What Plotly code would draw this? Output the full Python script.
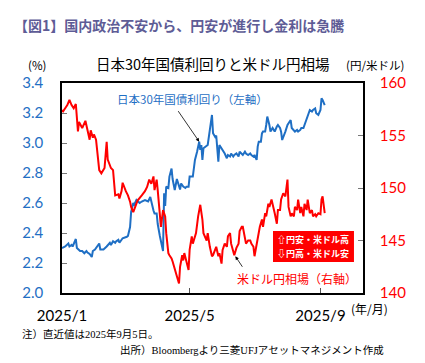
import plotly.graph_objects as go

jgb_dates = ["2025-01-01","2025-01-04","2025-01-07","2025-01-08","2025-01-10","2025-01-11","2025-01-14","2025-01-15","2025-01-18","2025-01-20",
"2025-01-22","2025-01-24","2025-01-25","2025-01-27","2025-01-29","2025-01-30","2025-02-01","2025-02-03","2025-02-05","2025-02-06",
"2025-02-09","2025-02-12","2025-02-13","2025-02-15","2025-02-16","2025-02-18","2025-02-20","2025-02-21","2025-02-23","2025-02-24",
"2025-02-26","2025-02-27","2025-03-03","2025-03-04","2025-03-06","2025-03-07","2025-03-09","2025-03-10","2025-03-12","2025-03-15",
"2025-03-17","2025-03-20","2025-03-23","2025-03-25","2025-03-28","2025-03-29","2025-03-31","2025-04-01","2025-04-03","2025-04-04",
"2025-04-06","2025-04-07","2025-04-08","2025-04-09","2025-04-11","2025-04-12","2025-04-14","2025-04-15","2025-04-17","2025-04-19",
"2025-04-20","2025-04-22","2025-04-23","2025-04-25","2025-04-27","2025-04-28","2025-04-30","2025-05-01","2025-05-03","2025-05-04",
"2025-05-06","2025-05-07","2025-05-08","2025-05-10","2025-05-11","2025-05-12","2025-05-13","2025-05-14","2025-05-16","2025-05-18",
"2025-05-20","2025-05-22","2025-05-23","2025-05-25","2025-05-26","2025-05-28","2025-05-29","2025-05-31","2025-06-01","2025-06-03",
"2025-06-05","2025-06-06","2025-06-08","2025-06-09","2025-06-11","2025-06-12","2025-06-14","2025-06-16","2025-06-17","2025-06-19",
"2025-06-20","2025-06-22","2025-06-23","2025-06-25","2025-06-27","2025-06-28","2025-06-30","2025-07-01","2025-07-03","2025-07-04",
"2025-07-05","2025-07-07","2025-07-08","2025-07-09","2025-07-11","2025-07-12","2025-07-13","2025-07-15","2025-07-16","2025-07-18",
"2025-07-19","2025-07-20","2025-07-22","2025-07-23","2025-07-25","2025-07-26","2025-07-27","2025-07-29","2025-07-30","2025-08-01",
"2025-08-02","2025-08-04","2025-08-05","2025-08-07","2025-08-08","2025-08-10","2025-08-11","2025-08-13","2025-08-14","2025-08-16",
"2025-08-17","2025-08-19","2025-08-21","2025-08-22","2025-08-24","2025-08-25","2025-08-27","2025-08-28","2025-08-30","2025-09-01",
"2025-09-02","2025-09-03","2025-09-05"]
jgb30 = [2.30,2.31,2.33,2.31,2.32,2.31,2.36,2.30,2.28,2.28,
2.265,2.28,2.27,2.26,2.24,2.28,2.29,2.31,2.33,2.29,
2.29,2.31,2.32,2.335,2.32,2.345,2.335,2.345,2.355,2.335,
2.355,2.365,2.375,2.38,2.44,2.54,2.60,2.59,2.62,2.60,
2.61,2.62,2.61,2.64,2.55,2.53,2.53,2.46,2.38,2.35,
2.28,2.665,2.58,2.71,2.70,2.776,2.83,2.76,2.687,2.76,
2.73,2.69,2.73,2.71,2.70,2.709,2.709,2.776,2.776,2.776,
2.887,2.91,2.942,3.009,2.954,2.987,2.887,2.965,2.975,2.987,
3.087,3.187,3.065,3.04,3.05,2.876,2.987,2.965,2.953,2.93,
2.898,2.92,2.91,2.93,2.91,2.92,2.93,2.91,2.942,2.93,
2.92,2.942,2.93,2.92,2.93,2.92,2.91,2.92,2.887,2.976,
3.009,3.009,3.064,3.076,3.076,3.12,3.176,3.12,3.076,3.10,
3.087,3.076,3.11,3.12,3.10,3.076,3.02,3.053,3.076,3.12,
3.13,3.153,3.10,3.087,3.076,3.087,3.076,3.087,3.10,3.10,
3.12,3.153,3.187,3.22,3.21,3.22,3.23,3.198,3.187,3.22,
3.298,3.287,3.253]

fx_dates = ["2025-01-01","2025-01-02","2025-01-04","2025-01-06","2025-01-08","2025-01-10","2025-01-12","2025-01-14","2025-01-16","2025-01-17",
"2025-01-19","2025-01-20","2025-01-23","2025-01-25","2025-01-27","2025-01-28","2025-01-30","2025-01-31","2025-02-02","2025-02-05",
"2025-02-07","2025-02-10","2025-02-12","2025-02-13","2025-02-16","2025-02-18","2025-02-19","2025-02-20","2025-02-23","2025-02-24",
"2025-02-26","2025-02-27","2025-03-02","2025-03-04","2025-03-06","2025-03-07","2025-03-09","2025-03-11","2025-03-13","2025-03-17",
"2025-03-20","2025-03-22","2025-03-24","2025-03-26","2025-03-28","2025-03-29","2025-03-31","2025-04-01","2025-04-03","2025-04-04",
"2025-04-06","2025-04-08","2025-04-09","2025-04-11","2025-04-12","2025-04-14","2025-04-15","2025-04-17","2025-04-19","2025-04-21",
"2025-04-22","2025-04-24","2025-04-25","2025-04-26","2025-04-28","2025-04-30","2025-05-01","2025-05-03","2025-05-04","2025-05-06",
"2025-05-07","2025-05-09","2025-05-11","2025-05-13","2025-05-14","2025-05-17","2025-05-18","2025-05-20","2025-05-22","2025-05-23",
"2025-05-25","2025-05-26","2025-05-28","2025-05-29","2025-05-31","2025-06-01","2025-06-03","2025-06-05","2025-06-06","2025-06-08",
"2025-06-09","2025-06-11","2025-06-12","2025-06-14","2025-06-16","2025-06-17","2025-06-19","2025-06-20","2025-06-22","2025-06-23",
"2025-06-25","2025-06-27","2025-06-28","2025-06-30","2025-07-01","2025-07-03","2025-07-04","2025-07-06","2025-07-08","2025-07-09",
"2025-07-11","2025-07-12","2025-07-14","2025-07-15","2025-07-17","2025-07-19","2025-07-20","2025-07-22","2025-07-23","2025-07-25",
"2025-07-26","2025-07-28","2025-07-30","2025-08-01","2025-08-02","2025-08-04","2025-08-05","2025-08-07","2025-08-08","2025-08-10",
"2025-08-11","2025-08-13","2025-08-14","2025-08-16","2025-08-17","2025-08-19","2025-08-20","2025-08-22","2025-08-24","2025-08-25",
"2025-08-27","2025-08-28","2025-08-30","2025-09-01","2025-09-02","2025-09-03","2025-09-05"]
usdjpy = [157.4,157.3,157.6,157.9,158.4,157.9,157.6,158.0,155.4,156.3,
155.9,155.7,156.4,155.6,154.6,155.5,154.8,155.1,154.6,151.7,
151.4,151.9,154.4,152.7,151.9,151.7,150.8,149.3,149.4,149.0,
149.7,150.5,149.7,149.3,148.7,148.2,147.7,148.2,148.8,149.3,
149.7,150.1,150.8,150.4,151.1,149.8,150.8,149.8,147.0,146.3,
147.9,147.3,145.7,143.8,143.6,143.3,143.0,142.2,141.6,140.9,
142.5,143.6,143.1,143.8,143.0,142.2,144.1,145.4,144.7,145.4,
145.7,147.3,148.4,147.0,145.7,145.0,145.7,144.4,143.5,143.6,
144.1,144.4,143.5,143.8,142.8,144.1,144.7,144.4,145.4,145.7,
144.7,144.1,143.6,144.3,144.7,145.9,146.3,146.3,145.2,144.7,
145.0,145.0,144.7,144.4,143.5,144.7,145.4,146.3,147.0,146.3,
147.6,147.3,148.5,148.2,148.9,148.2,147.6,146.6,147.9,147.9,
148.9,149.5,149.2,150.8,148.2,147.3,147.6,147.3,148.2,147.9,
148.9,147.6,148.2,147.3,148.5,147.9,148.9,147.6,147.9,147.3,
147.5,147.3,147.6,147.5,148.9,149.2,147.6]

x_tick_vals = ["2025-01-01", "2025-05-01", "2025-09-01"]
x_tick_text = ["2025/1", "2025/5", "2025/9"]
left_ticks = [2.0, 2.2, 2.4, 2.6, 2.8, 3.0, 3.2, 3.4]
right_ticks = [140, 145, 150, 155, 160]

BLUE = "#1F6FC4"
RED = "#FF0000"
NUM_FONT = "Lato, Liberation Sans, sans-serif"
JP_FONT = "Noto Sans CJK JP, sans-serif"

fig = go.Figure()
fig.add_trace(go.Scatter(x=fx_dates, y=usdjpy, mode="lines", yaxis="y2",
                         line=dict(color=RED, width=2), showlegend=False))
fig.add_trace(go.Scatter(x=jgb_dates, y=jgb30, mode="lines", yaxis="y",
                         line=dict(color=BLUE, width=2), showlegend=False))

# page body has an 8px margin: figure is sized/offset so the plot box sits at x 62-363, y 83-293
fig.update_layout(
    width=417, height=355,
    margin=dict(l=54, r=62, t=75, b=70),
    paper_bgcolor="white", plot_bgcolor="white",
    xaxis=dict(type="date", range=["2025-01-01", "2025-10-11"],
               tickvals=x_tick_vals, ticktext=x_tick_text,
               ticks="inside", ticklen=5, tickcolor="#555", tickwidth=1,
               showline=True, linecolor="black", linewidth=1.5, mirror=True,
               showgrid=False, zeroline=False,
               tickfont=dict(family=NUM_FONT, size=15, color="black"),
               ticklabelstandoff=8),
    yaxis=dict(range=[2.0, 3.4], tickvals=left_ticks,
               ticktext=[f"{v:.1f}" for v in left_ticks],
               ticks="inside", ticklen=5, tickcolor="#777", tickwidth=1,
               showline=True, linecolor="black", linewidth=1.5, mirror=True,
               showgrid=False, zeroline=False,
               tickfont=dict(family=NUM_FONT, size=15, color=BLUE),
               ticklabelstandoff=14),
    yaxis2=dict(range=[140, 160], tickvals=right_ticks, overlaying="y", side="right",
                ticks="inside", ticklen=5, tickcolor="#777", tickwidth=1,
                showline=True, linecolor="black", linewidth=1.5,
                showgrid=False, zeroline=False,
                tickfont=dict(family=NUM_FONT, size=15, color=RED),
                ticklabelstandoff=12),
)

def pa(text, x, y, size, color="black", xanchor="center", family=JP_FONT, **kw):
    fig.add_annotation(text=text, xref="paper", yref="paper", x=x, y=y,
                       xanchor=xanchor, yanchor="middle", showarrow=False,
                       font=dict(family=family, size=size, color=color), **kw)

pa("<b>【図1】国内政治不安から、円安が進行し金利は急騰</b>", -0.165, 1.276, 14, color="#5E5C96", xanchor="left")
pa("日本30年国債利回りと米ドル円相場", 0.5, 1.095, 14.5)
pa("(%)", -0.083, 1.085, 11.5)
pa("(円/米ドル)", 1.04, 1.085, 11.5)
pa("(年/月)", 1.021, -0.076, 12)
pa("注）直近値は2025年9月5日。", -0.14, -0.195, 10.5, xanchor="left",
   family="Liberation Serif, Noto Sans CJK JP, serif")
pa("出所）Bloombergより三菱UFJアセットマネジメント作成", 0.186, -0.271, 10.5, xanchor="left",
   family="Liberation Serif, Noto Sans CJK JP, serif")

pa("日本30年国債利回り（左軸）", 0.175, 0.924, 11.5, color=BLUE, xanchor="left")
pa("米ドル円相場（右軸）", 0.574, 0.067, 12, color=RED, xanchor="left")

# red note box
fig.add_shape(type="rect", xref="paper", yref="paper", x0=0.701, x1=0.970, y0=0.148, y1=0.295,
              fillcolor=RED, line=dict(width=0), layer="above")
pa("<b>⇧円安・米ドル高</b>", 0.8355, 0.254, 9, color="white")
pa("<b>⇩円高・米ドル安</b>", 0.8355, 0.188, 9, color="white")

# arrows pointing to series
fig.add_annotation(x="2025-05-10", y=3.009, xref="x", yref="y", text="",
                   showarrow=True, arrowhead=2, arrowsize=0.9, arrowwidth=0.8,
                   arrowcolor="black", ax=-22, ay=-32)
fig.add_annotation(x="2025-06-13", y=143.5, xref="x", yref="y2", text="",
                   showarrow=True, arrowhead=2, arrowsize=0.9, arrowwidth=0.8,
                   arrowcolor="black", ax=8, ay=12)

fig.write_html("out.html")
